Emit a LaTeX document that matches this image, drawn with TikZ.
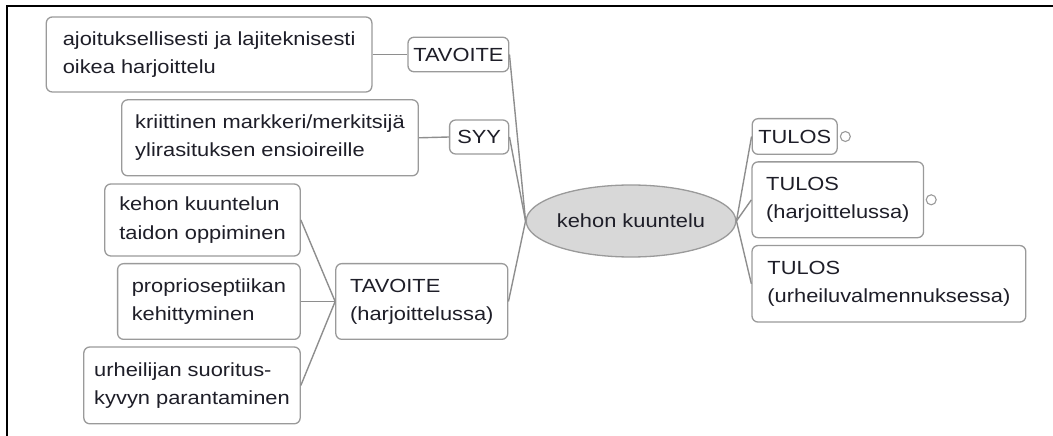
\documentclass[tikz,border=0pt]{standalone}
\usepackage{fontspec}
\usetikzlibrary{shapes.geometric}
\newfontfamily\mapfont[FakeStretch=1.15]{Liberation Sans}
\definecolor{edgegray}{HTML}{8E8E8E}
\definecolor{boxgray}{HTML}{9A9A9A}
\definecolor{inkdark}{HTML}{1E1E28}
\definecolor{hubfill}{HTML}{D8D8D8}
\begin{document}
\begin{tikzpicture}[x=1bp,y=-1bp,
  every node/.style={font=\mapfont\fontsize{19bp}{28.3bp}\selectfont, text=inkdark},
  topic/.style={draw=boxgray, line width=1.3bp, fill=white, rounded corners=6bp,
    align=left, inner sep=0pt},
  hub/.style={ellipse, draw=boxgray, line width=1.3bp, fill=hubfill, inner sep=0pt,
    minimum width=171bp, minimum height=72bp},
  link/.style={draw=edgegray, line width=1.4bp},
  knob/.style={circle, draw=boxgray, line width=1.1bp, fill=white, inner sep=0pt,
    minimum size=10bp}]
  \useasboundingbox (0,0) rectangle (1053,436);
  % outer frame (top and left edges)
  \draw[line width=2bp] (7,436) -- (7,6) -- (1053,6);

  % central topic
  \node[hub] (hub) at (631,221) {kehon kuuntelu};

  % left branches
  \node[topic, minimum width=100.8bp, minimum height=34.5bp] (tav) at (458.4,54.5) {TAVOITE};
  \node[topic, minimum width=325.6bp, minimum height=75bp] (ajo) at (209.1,54.5)
    {ajoituksellisesti ja lajiteknisesti\\oikea harjoittelu};
  \node[topic, minimum width=59.2bp, minimum height=34bp] (syy) at (479.2,137) {SYY};
  \node[topic, minimum width=296.5bp, minimum height=76bp] (kri) at (270,137.8)
    {kriittinen markkeri/merkitsijä\\ylirasituksen ensioireille};
  \node[topic, minimum width=172bp, minimum height=75.7bp] (tavh) at (421.8,301.5)
    {TAVOITE\\(harjoittelussa)};
  \node[topic, minimum width=195.4bp, minimum height=72bp] (kuu) at (202.5,220)
    {kehon kuuntelun\\taidon oppiminen};
  \node[topic, minimum width=182.6bp, minimum height=75.7bp] (pro) at (208.9,301.5)
    {proprioseptiikan\\kehittyminen};
  \node[topic, minimum width=216.4bp, minimum height=76.8bp] (urh) at (192,385.4)
    {urheilijan suoritus-\\kyvyn parantaminen};

  % right branches
  \node[topic, minimum width=85bp, minimum height=35.7bp] (tul1) at (794.7,136.5) {TULOS};
  \node[topic, minimum width=171.5bp, minimum height=75.8bp] (tul2) at (837.8,199.8)
    {TULOS\\(harjoittelussa)};
  \node[topic, minimum width=273.8bp, minimum height=76.5bp] (tul3) at (888.9,283.8)
    {TULOS\\(urheiluvalmennuksessa)};
  \node[knob] (k1) at ([xshift=7.5bp]tul1.east) {};
  \node[knob] (k2) at ([xshift=7bp]tul2.east) {};

  % connectors
  \path[link] (ajo.east) -- (tav.west);
  \path[link] (kri.east) -- (syy.west);
  \path[link] (kuu.east) -- (tavh.west);
  \path[link] (pro.east) -- (tavh.west);
  \path[link] (urh.east) -- (tavh.west);
  \path[link] (tav.east) -- (hub.west);
  \path[link] (syy.east) -- (hub.west);
  \path[link] (tavh.east) -- (hub.west);
  \path[link] (hub.east) -- (tul1.west);
  \path[link] (hub.east) -- (tul2.west);
  \path[link] (hub.east) -- (tul3.west);
\end{tikzpicture}
\end{document}
